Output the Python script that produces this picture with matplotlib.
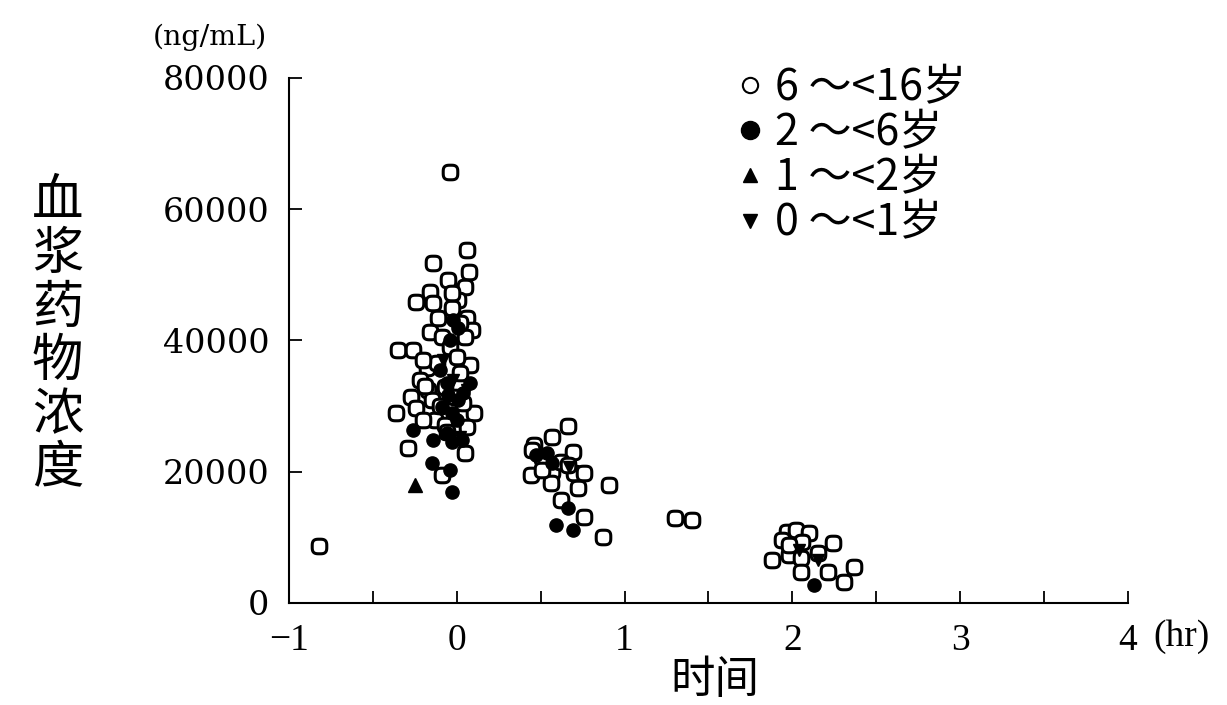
import numpy as np
import matplotlib
matplotlib.use("Agg")
import matplotlib.pyplot as plt
from matplotlib.path import Path
from matplotlib.lines import Line2D

# 6~<16岁 (open)
x_6_16 = [-0.82, -0.04, 0.06, -0.14, 0.07, -0.05, 0.05, -0.16, -0.24, -0.14, 0.01, -0.03,
          0.06, 0.09, -0.16, -0.09, 0.05, -0.35, -0.26, -0.04, 0.08, -0.18, -0.22, -0.17,
          -0.27, -0.24, -0.36, 0.10, 0.06, -0.15, -0.13, -0.29, 0.05, -0.09, -0.20, 0.02,
          -0.07, -0.01, -0.07, 0.02, -0.03, -0.12, -0.19, -0.10, 0.00, -0.11, -0.20, 0.04,
          -0.06,
          0.66, 0.57, 0.46, 0.45, 0.69, 0.44, 0.57, 0.56, 0.70, 0.76, 0.72, 0.91, 0.62,
          0.76, 0.87, 0.51, 0.62, 0.51, 0.66,
          1.30, 1.40,
          1.97, 2.02, 2.10, 1.94, 2.06, 2.24, 1.88, 1.98, 2.05, 2.15, 2.05, 2.21, 2.31,
          2.37, 1.98]
y_6_16 = [8700, 65700, 53800, 51800, 50400, 49200, 48200, 47400, 45900, 45700, 46200, 45000,
          43400, 41600, 41300, 40500, 40500, 38500, 38500, 39000, 36300, 35800, 34000, 32500,
          31400, 29700, 29000, 29000, 26800, 30900, 27900, 23600, 22900, 19500, 27900, 35100,
          32900, 31400, 27100, 42700, 47200, 36500, 33000, 30000, 37500, 43500, 37000, 30500,
          26000,
          27000, 25300, 24100, 23300, 23000, 19500, 20000, 18300, 19800, 19800, 17500, 18000,
          15700, 13100, 10100, 22100, 21500, 20300, 21000,
          13000, 12700,
          10800, 11100, 10700, 9600, 9300, 9100, 6500, 7300, 6900, 7600, 4700, 4700, 3200,
          5500, 8800]

# 2~<6岁 (filled circle)
x_2_6 = [-0.03, -0.15, -0.14, -0.26, -0.03, 0.03, -0.04, 0.08, -0.05, -0.06, -0.10, 0.04,
         -0.03, 0.00, 0.01, -0.02, -0.04, -0.06, -0.09, 0.01,
         0.66, 0.59, 0.69, 0.47, 0.57, 0.54,
         2.13]
y_2_6 = [16900, 21300, 24800, 26400, 24500, 24800, 20300, 33500, 31700, 33500, 35500, 32000,
         29000, 27900, 41900, 43100, 40100, 25900, 29900, 30900,
         14500, 11900, 11100, 22600, 21300, 22900,
         2700]

# 1~<2岁 (triangle up)
x_1_2 = [-0.25]
y_1_2 = [18000]

# 0~<1岁 (triangle down)
x_0_1 = [-0.02, 0.02, -0.08, 0.06, 0.67, 2.04, 2.15]
y_0_1 = [34000, 25300, 37000, 32500, 20700, 8100, 6600]

legend_labels = ["6 ～<16岁", "2 ～<6岁", "1 ～<2岁", "0 ～<1岁"]

# rounded-square marker (like the scanned open circles)
t = np.linspace(0, 2 * np.pi, 80)
n = 3.2
sx = np.sign(np.cos(t)) * np.abs(np.cos(t)) ** (2 / n)
sy = np.sign(np.sin(t)) * np.abs(np.sin(t)) ** (2 / n)
squircle = Path(np.column_stack([sx, sy]), closed=True)

cjk = ["Noto Sans CJK SC", "DejaVu Sans"]

fig = plt.figure(figsize=(12.27, 7.05), dpi=100)
ax = fig.add_axes([0.2355, 0.1447, 0.6838, 0.7447])

ax.plot(x_6_16, y_6_16, linestyle="none", marker=squircle, markersize=10.5,
        markerfacecolor="white", markeredgecolor="black", markeredgewidth=2.2, zorder=3)
ax.plot(x_2_6, y_2_6, linestyle="none", marker="o", markersize=9.5,
        color="black", zorder=4)
ax.plot(x_1_2, y_1_2, linestyle="none", marker="^", markersize=9.5,
        color="black", zorder=4)
ax.plot(x_0_1, y_0_1, linestyle="none", marker="v", markersize=8,
        color="black", zorder=4)

ax.set_xlim(-1, 4)
ax.set_ylim(0, 80000)
ax.spines["top"].set_visible(False)
ax.spines["right"].set_visible(False)
for s in ["left", "bottom"]:
    ax.spines[s].set_linewidth(1.5)

ax.set_xticks([-1, 0, 1, 2, 3, 4])
ax.set_xticklabels(["−1", "0", "1", "2", "3", "4"])
ax.set_xticks(np.arange(-0.5, 4, 1.0), minor=True)
ax.set_yticks([0, 20000, 40000, 60000, 80000])
ax.tick_params(axis="both", which="both", direction="in", length=9, width=1.3)
ax.tick_params(axis="x", which="major", pad=15)
ax.tick_params(axis="y", which="major", pad=14)
for lab in ax.get_xticklabels():
    lab.set_fontfamily("Liberation Serif")
    lab.set_fontsize(27)
for lab in ax.get_yticklabels():
    lab.set_fontfamily("DejaVu Serif")
    lab.set_fontsize(24)

fig.text(0.171, 0.947, "(ng/mL)", family="DejaVu Serif", fontsize=20.5,
         ha="center", va="center")
fig.text(0.963, 0.097, "(hr)", family="Liberation Serif", fontsize=27,
         ha="center", va="center")
fig.text(0.047, 0.525, "\n".join("血浆药物浓度"), family=cjk, fontsize=37,
         fontweight="medium", ha="center", va="center", linespacing=1.0)
fig.text(0.583, 0.035, "时间", family=cjk, fontsize=32, ha="center", va="center")

handles = [
    Line2D([], [], linestyle="none", marker="o", markersize=11, markerfacecolor="white",
           markeredgecolor="black", markeredgewidth=1.5),
    Line2D([], [], linestyle="none", marker="o", markersize=13, color="black"),
    Line2D([], [], linestyle="none", marker="^", markersize=10, color="black"),
    Line2D([], [], linestyle="none", marker="v", markersize=10, color="black"),
]
leg = ax.legend(handles, legend_labels, loc="upper left", bbox_to_anchor=(0.513, 1.056),
                frameon=False, handlelength=0.6, handletextpad=0.3, labelspacing=0.03,
                borderaxespad=0, prop={"family": cjk, "size": 31, "weight": "light"})

fig.savefig("out.png", dpi=100, facecolor="white")
